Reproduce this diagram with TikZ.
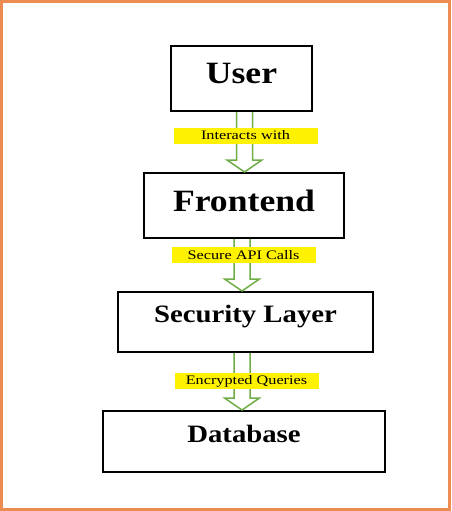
\documentclass[tikz,border=0pt]{standalone}
\usepackage{fontspec}
\newfontfamily\tierfont[FakeStretch=1.15]{Liberation Serif}
\newfontfamily\tagfont[FakeStretch=1.25]{Liberation Serif}
\usetikzlibrary{calc}

\definecolor{framecolor}{RGB}{237,140,80}
\definecolor{flowgreen}{RGB}{112,173,71}

\tikzset{
	tier/.style={draw=black,line width=2pt,fill=white,inner sep=0pt,outer sep=0pt,font=\tierfont\bfseries},
	tag/.style={fill=yellow,inner sep=0pt,minimum width=144pt,minimum height=16pt,font=\tagfont\fontsize{13}{13}\selectfont},
	flow/.style={draw=flowgreen,line width=1.5pt,fill=white,line join=miter}
}

% hollow block arrow: from box, to box, x of its axis
\newcommand{\flowarrow}[3]{%
	\draw[flow] let \p1=(#1.south), \p2=(#2.north) in
		(#3pt-8pt,\y1-1pt) -- (#3pt-8pt,\y2+13pt) -- (#3pt-17.5pt,\y2+13pt) -- (#3pt,\y2+1pt)
		-- (#3pt+17.5pt,\y2+13pt) -- (#3pt+8pt,\y2+13pt) -- (#3pt+8pt,\y1-1pt);}

\begin{document}
\begin{tikzpicture}[x=1pt,y=-1pt]
	\useasboundingbox (0,0) rectangle (451,511);
	\fill[white] (0,0) rectangle (451,511);
	\draw[framecolor,line width=3pt] (1.5,1.5) rectangle (449.5,509.5);
	\node[tier,minimum width=141pt,minimum height=65pt,text height=20.5pt,text depth=11.5pt] (user) at (241.5,78.5) {\fontsize{31}{31}\selectfont User};
	\node[tier,minimum width=200pt,minimum height=65pt,text height=20.5pt,text depth=9.5pt] (frontend) at (244,205.5) {\fontsize{31}{31}\selectfont Frontend};
	\node[tier,minimum width=255pt,minimum height=60pt,text height=16.5pt,text depth=16.5pt] (security) at (245.5,322) {\fontsize{25}{25}\selectfont Security Layer};
	\node[tier,minimum width=282pt,minimum height=61pt,text height=16.5pt,text depth=15.5pt] (database) at (244,441.5) {\fontsize{25}{25}\selectfont Database};
	\flowarrow{user}{frontend}{244.5}
	\flowarrow{frontend}{security}{242}
	\flowarrow{security}{database}{242}
	\node[tag] (interacts) at (245.5,135.5) {Interacts with};
	\node[tag] (apicalls) at (243.5,255) {Secure API Calls};
	\node[tag] (queries) at (246.5,381) {Encrypted Queries};
\end{tikzpicture}
\end{document}
